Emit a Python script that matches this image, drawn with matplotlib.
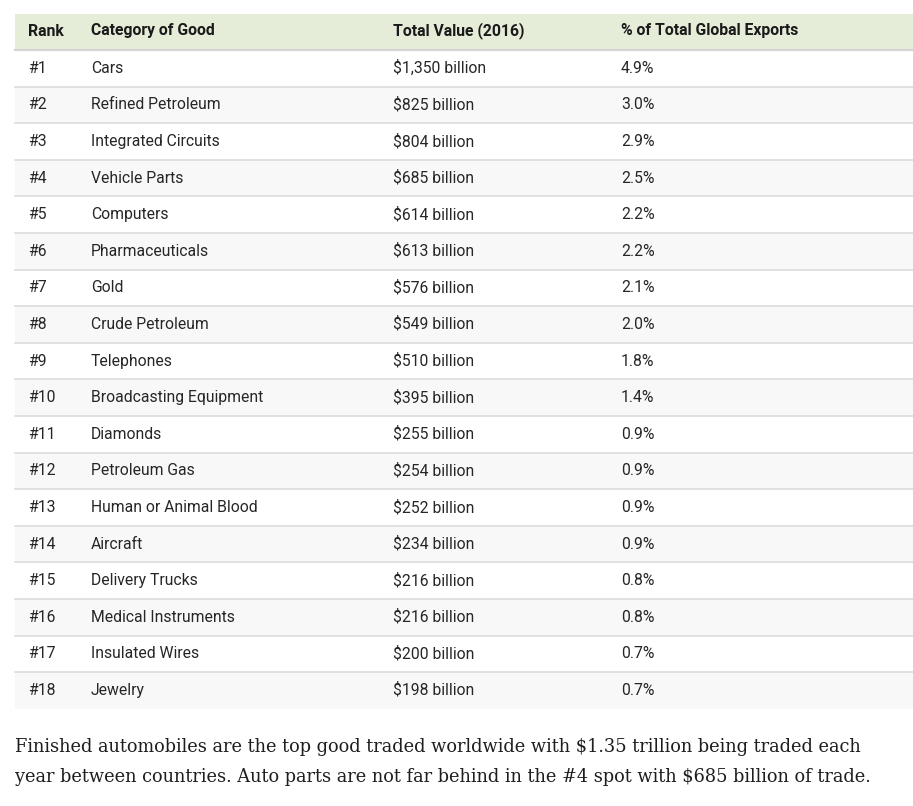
import matplotlib
matplotlib.use("Agg")
import matplotlib.pyplot as plt
from matplotlib.patches import Rectangle

ranks = ["#1", "#2", "#3", "#4", "#5", "#6", "#7", "#8", "#9", "#10",
         "#11", "#12", "#13", "#14", "#15", "#16", "#17", "#18"]
categories = ["Cars", "Refined Petroleum", "Integrated Circuits", "Vehicle Parts",
              "Computers", "Pharmaceuticals", "Gold", "Crude Petroleum",
              "Telephones", "Broadcasting Equipment", "Diamonds", "Petroleum Gas",
              "Human or Animal Blood", "Aircraft", "Delivery Trucks",
              "Medical Instruments", "Insulated Wires", "Jewelry"]
values = ["$1,350 billion", "$825 billion", "$804 billion", "$685 billion",
          "$614 billion", "$613 billion", "$576 billion", "$549 billion",
          "$510 billion", "$395 billion", "$255 billion", "$254 billion",
          "$252 billion", "$234 billion", "$216 billion", "$216 billion",
          "$200 billion", "$198 billion"]
pcts = ["4.9%", "3.0%", "2.9%", "2.5%", "2.2%", "2.2%", "2.1%", "2.0%",
        "1.8%", "1.4%", "0.9%", "0.9%", "0.9%", "0.9%", "0.8%", "0.8%",
        "0.7%", "0.7%"]
headers = ["Rank", "Category of Good", "Total Value (2016)", "% of Total Global Exports"]
caption = ["Finished automobiles are the top good traded worldwide with $1.35 trillion being traded each",
           "year between countries. Auto parts are not far behind in the #4 spot with $685 billion of trade."]

W, H = 913, 806
fig = plt.figure(figsize=(W / 100, H / 100), dpi=100)
ax = fig.add_axes([0, 0, 1, 1])
ax.set_xlim(0, W)
ax.set_ylim(H, 0)
ax.axis("off")

left, right = 15, 913
col_x = [28, 91, 393, 621]
head_top, head_bot = 14, 49.5
row_h = 36.6
font = "Roboto"
fs = 11.3

ax.add_patch(Rectangle((left, head_top), right - left, head_bot - head_top,
                       facecolor="#e5edd9", edgecolor="none"))
ax.plot([left, right], [head_bot + 0.5, head_bot + 0.5], color="#d4d4d4", lw=1.6)
for x, h in zip(col_x, headers):
    ax.text(x, 35.5, h, fontsize=fs, fontweight="bold",
            family=font, color="#1a1a1a", va="baseline", ha="left")

cols = [ranks, categories, values, pcts]
for i in range(len(ranks)):
    top = head_bot + 0.5 + i * row_h
    if i % 2 == 1:
        ax.add_patch(Rectangle((left, top), right - left, row_h,
                               facecolor="#f8f8f8", edgecolor="none"))
    if i > 0:
        ax.plot([left, right], [top, top], color="#dcdcdc", lw=1.2)
    for x, col in zip(col_x, cols):
        ax.text(x, top + 22.8, col[i], fontsize=fs, family=font,
                color="#262626", va="baseline", ha="left")

for j, line in enumerate(caption):
    ax.text(15, 752 + j * 30, line, fontsize=12.8, family="DejaVu Serif",
            color="#1e1e1e", va="baseline", ha="left")

fig.savefig("out.png", dpi=100, facecolor="white")
